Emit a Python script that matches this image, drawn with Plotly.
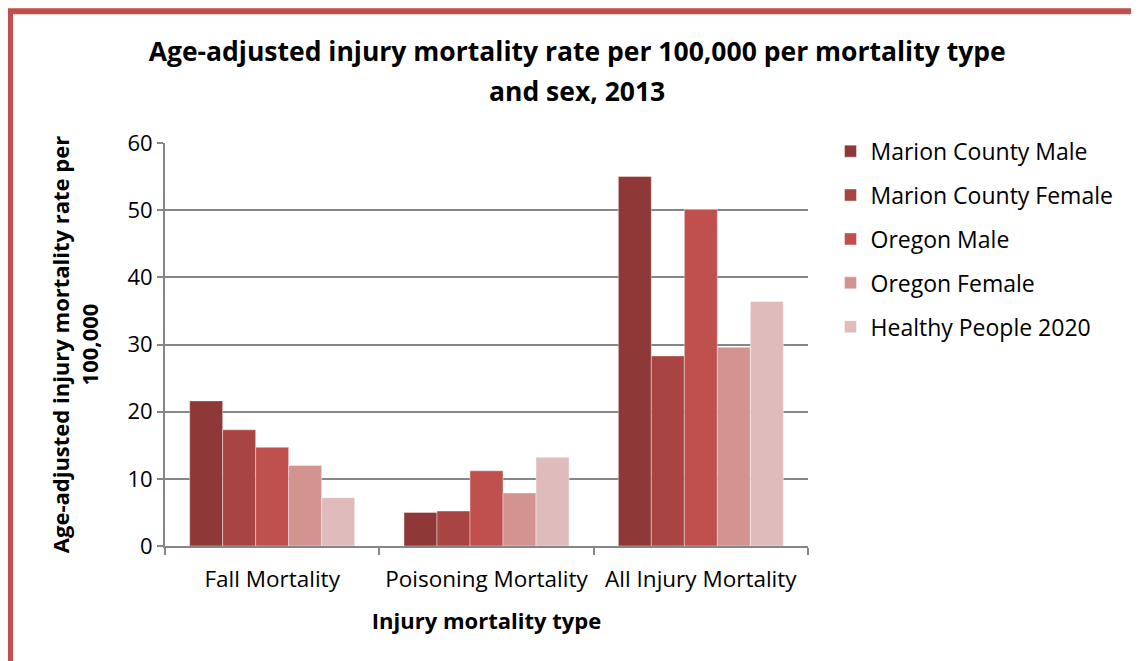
import plotly.graph_objects as go

categories = ["Fall Mortality", "Poisoning Mortality", "All Injury Mortality"]
series_names = ["Marion County Male", "Marion County Female", "Oregon Male", "Oregon Female", "Healthy People 2020"]
marion_male = [21.6, 5.0, 55.0]
marion_female = [17.3, 5.2, 28.3]
oregon_male = [14.7, 11.2, 50.1]
oregon_female = [12.0, 7.9, 29.6]
healthy_people = [7.2, 13.2, 36.4]
colors = ["#8E3937", "#A84543", "#C0504D", "#D39391", "#E0BBBB"]
title_lines = ["Age-adjusted injury mortality rate per 100,000 per mortality type", "and sex, 2013"]

series_values = [marion_male, marion_female, oregon_male, oregon_female, healthy_people]
FONT = "Open Sans"

fig = go.Figure()
for i, (name, vals) in enumerate(zip(series_names, series_values)):
    fig.add_trace(go.Bar(
        name=name, x=categories, y=vals,
        marker=dict(color=colors[i], line=dict(color="rgba(255,255,255,0.5)", width=0.8)),
        legendgroup=f"g{i}",
    ))

fig.update_layout(
    width=1139, height=661,
    paper_bgcolor="white", plot_bgcolor="white",
    margin=dict(l=157, r=339, t=135, b=123, autoexpand=False),
    barmode="group", bargap=0.23, bargroupgap=0,
    font=dict(family=FONT, color="#000000"),
    title=dict(
        text=f"<b>{title_lines[0]}</b>",
        x=0.641, xref="paper", xanchor="center", y=1.0 - 44 / 661, yanchor="middle",
        font=dict(size=26.5, family=FONT),
    ),
    annotations=[dict(
        text=f"<b>{title_lines[1]}</b>", xref="paper", yref="paper",
        x=0.641, y=(538 - 83) / 403, xanchor="center", yanchor="middle",
        showarrow=False, font=dict(size=26.5, family=FONT),
    )],
    legend=dict(
        x=1.035, y=1.033, xanchor="left", yanchor="top",
        bgcolor="rgba(0,0,0,0)",
        font=dict(size=23, family=FONT), traceorder="grouped", tracegroupgap=11,
        itemwidth=30,
    ),
    showlegend=True,
    xaxis=dict(
        automargin=False, tickangle=0,
        showline=True, linecolor="#868686", linewidth=2,
        ticks="outside", tickson="boundaries", ticklen=7, tickcolor="#868686", tickwidth=2,
        tickfont=dict(size=22.5, family=FONT), ticklabelstandoff=12,
        title=dict(text="<b>Injury mortality type</b>", font=dict(size=22, family=FONT), standoff=21),
    ),
    yaxis=dict(
        automargin=False,
        range=[0, 60], dtick=10,
        showline=True, linecolor="#868686", linewidth=2,
        showgrid=True, gridcolor="#868686", gridwidth=2,
        ticks="outside", ticklen=6, tickcolor="#868686", tickwidth=2,
        tickfont=dict(size=22, family=FONT),
        zeroline=False,
        title=dict(text="<b>Age-adjusted injury mortality rate per<br>100,000</b>", font=dict(size=22, family=FONT), standoff=23),
    ),
    shapes=[dict(
        type="rect", xref="paper", yref="paper",
        x0=-0.241, x1=2.0, y0=-0.5, y1=1.327,
        line=dict(color="#C0504D", width=6), fillcolor="rgba(0,0,0,0)", layer="below",
    )],
)

fig.write_html("out.html")
